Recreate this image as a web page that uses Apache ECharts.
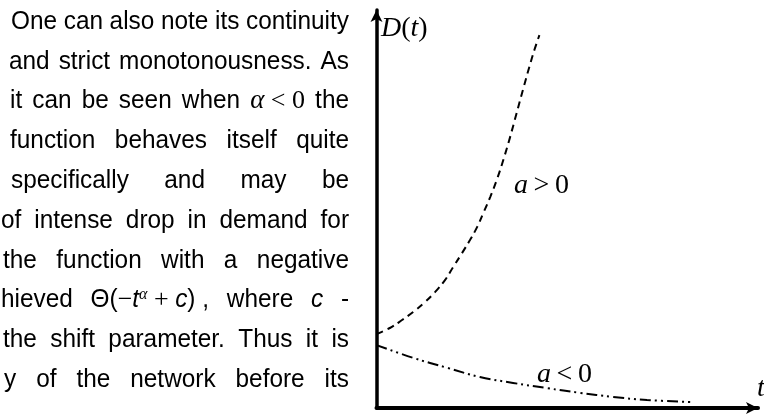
<!DOCTYPE html>
<html>
<head>
<meta charset="utf-8">
<script src="https://cdn.jsdelivr.net/npm/echarts@6/dist/echarts.min.js"></script>
<style>
  html, body { margin: 0; padding: 0; background: #fff; }
  #chart { width: 764px; height: 416px; }
</style>
</head>
<body>
<div id="chart"></div>
<script>
// D(t) for a > 0 (dashed, growing)
const tGrow = [0, 0.35, 0.67, 0.96, 1.27, 1.53, 1.80, 2.01, 2.24, 2.45, 2.64, 2.80, 2.98, 3.16, 3.33, 3.50, 3.67, 3.84, 4.00, 4.14, 4.27];
const dGrow = [1.86, 2.01, 2.21, 2.41, 2.66, 2.91, 3.22, 3.54, 3.89, 4.22, 4.55, 4.90, 5.30, 5.75, 6.25, 6.80, 7.40, 8.00, 8.55, 9.00, 9.37];
// D(t) for a < 0 (dash-dot-dot, decaying)
const tDecay = [0, 0.96, 1.85, 2.71, 3.58, 4.47, 5.33, 6.19, 7.09, 8.29];
const dDecay = [1.58, 1.26, 1.01, 0.78, 0.63, 0.50, 0.38, 0.28, 0.20, 0.15];

// Body text beside the figure; {style|text} marks a styled run inside a word
const textLines = [
  'One can also note its continuity',
  'and strict monotonousness. As',
  'it can be seen when {mi|α}{ms| < 0} the',
  'function behaves itself quite',
  'specifically and may be',
  'of intense drop in demand for',
  'the function with a negative',
  'hieved {n|Θ(}{ms|−}{ti|t}{sup|α}{ms| + }{ti|c}{n|)}{n| ,} where {ti|c} -',
  'the shift parameter. Thus it is',
  'y of the network before its'
];
const lineLeft = [11, 9, 10, 10, 11, 1, 3, 1, 3, 4];
const lineRight = 349;
const lineTop = 35;
const lineStep = 39.8;

const SANS = '"Liberation Sans", Arial, sans-serif';
const SERIF = '"Liberation Serif", "Times New Roman", serif';
// Body face is a slightly condensed sans; sx is the horizontal squeeze
const runFonts = {
  n: { font: '26.5px ' + SANS, dy: 0, sx: 0.92 },
  ti: { font: 'italic 26.5px ' + SANS, dy: 0, sx: 0.92 },
  mi: { font: 'italic 27px ' + SERIF, dy: 0, sx: 1 },
  ms: { font: '26px ' + SERIF, dy: 0, sx: 1 },
  sup: { font: 'italic 16px ' + SERIF, dy: -11, sx: 1 }
};

const measureCtx = document.createElement('canvas').getContext('2d');
function measure(text, f) {
  measureCtx.font = f.font;
  return measureCtx.measureText(text).width * f.sx;
}
function splitWords(line) {
  return line.match(/(?:\{[^}]*\}|[^\s{])+/g);
}
function parseWord(word) {
  const runs = [];
  const re = /\{(\w+)\|([^}]*)\}|([^{]+)/g;
  let m;
  while ((m = re.exec(word)) !== null) {
    if (m[1]) runs.push({ key: m[1], text: m[2] });
    else runs.push({ key: 'n', text: m[3] });
  }
  return runs;
}

const textElements = [];
textLines.forEach(function (line, li) {
  const words = splitWords(line).map(parseWord);
  const widths = words.map(function (runs) {
    return runs.reduce(function (s, r) { return s + measure(r.text, runFonts[r.key]); }, 0);
  });
  const total = widths.reduce(function (a, b) { return a + b; }, 0);
  const gap = words.length > 1 ? (lineRight - lineLeft[li] - total) / (words.length - 1) : 0;
  const baseline = lineTop + li * lineStep;
  let x = lineLeft[li];
  words.forEach(function (runs, wi) {
    let rx = x;
    runs.forEach(function (r) {
      const f = runFonts[r.key];
      textElements.push({
        type: 'text', x: rx, y: baseline + f.dy, scaleX: f.sx, silent: true,
        style: { text: r.text, font: f.font, fill: '#000', align: 'left', verticalAlign: 'bottom' }
      });
      rx += measure(r.text, f);
    });
    x += widths[wi] + gap;
  });
});

// Curve and axis annotations
const serifIt = 'italic 28px ' + SERIF;
const serifUp = '28px ' + SERIF;
const annotations = [
  { x: 381, y: 29, rich: '{i|D}{u|(}{i|t}{u|)}' },
  { x: 514, y: 186, rich: '{i|a}{u|\u2009>\u20090}' },
  { x: 537, y: 375, rich: '{i|a}{u|\u2009<\u20090}' },
  { x: 757, y: 389, rich: '{i|t}' }
];
annotations.forEach(function (a) {
  textElements.push({
    type: 'text', x: a.x, y: a.y, silent: true,
    style: {
      text: a.rich, align: 'left', verticalAlign: 'middle',
      rich: {
        i: { font: serifIt, fill: '#000' },
        u: { font: serifUp, fill: '#000' }
      }
    }
  });
});

function zip(xs, ys) { return xs.map(function (v, i) { return [v, ys[i]]; }); }

const chart = echarts.init(document.getElementById('chart'), null, { renderer: 'canvas' });
chart.setOption({
  animation: false,
  backgroundColor: '#fff',
  grid: { left: 376.5, right: 6, top: 10, bottom: 8, containLabel: false },
  xAxis: {
    type: 'value', min: 0, max: 10,
    axisLine: { show: true, symbol: ['none', 'arrow'], symbolSize: [9, 12], lineStyle: { color: '#000', width: 4 } },
    axisTick: { show: false }, axisLabel: { show: false }, splitLine: { show: false }
  },
  yAxis: {
    type: 'value', min: 0, max: 10,
    axisLine: { show: true, symbol: ['none', 'arrow'], symbolSize: [9, 12], lineStyle: { color: '#000', width: 3.5 } },
    axisTick: { show: false }, axisLabel: { show: false }, splitLine: { show: false }
  },
  series: [
    {
      type: 'line', data: zip(tGrow, dGrow), smooth: 0.4, symbol: 'none',
      lineStyle: { color: '#000', width: 2, type: [7, 5] }
    },
    {
      type: 'line', data: zip(tDecay, dDecay), smooth: 0.4, symbol: 'none',
      lineStyle: { color: '#000', width: 2, type: [11, 4, 2, 4, 2, 4] }
    }
  ],
  graphic: textElements
});
</script>
</body>
</html>
